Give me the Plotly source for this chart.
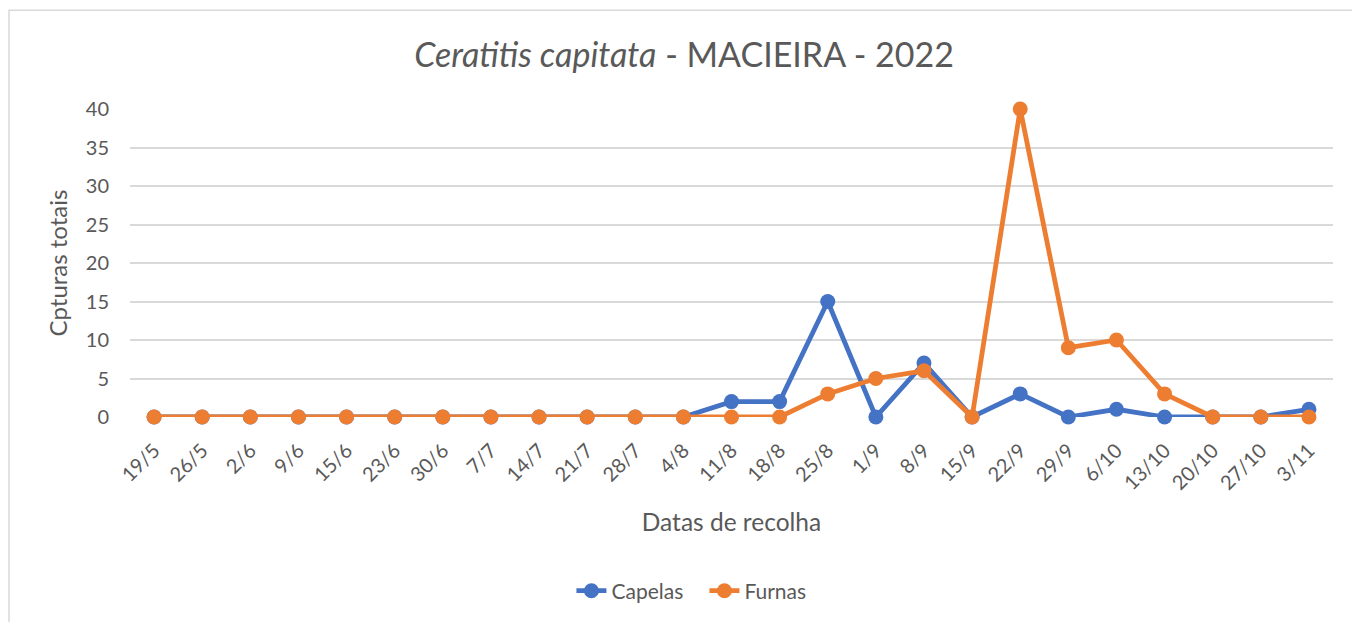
import plotly.graph_objects as go

dates = ["19/5", "26/5", "2/6", "9/6", "15/6", "23/6", "30/6", "7/7", "14/7", "21/7",
         "28/7", "4/8", "11/8", "18/8", "25/8", "1/9", "8/9", "15/9", "22/9", "29/9",
         "6/10", "13/10", "20/10", "27/10", "3/11"]
capelas = [0, 0, 0, 0, 0, 0, 0, 0, 0, 0, 0, 0, 2, 2, 15, 0, 7, 0, 3, 0, 1, 0, 0, 0, 1]
furnas = [0, 0, 0, 0, 0, 0, 0, 0, 0, 0, 0, 0, 0, 0, 3, 5, 6, 0, 40, 9, 10, 3, 0, 0, 0]
y_ticks = [0, 5, 10, 15, 20, 25, 30, 35, 40]

FONT = "Lato, Open Sans, sans-serif"
TXT = "#595959"

fig = go.Figure()
fig.add_trace(go.Scatter(x=dates, y=capelas, name="Capelas", mode="lines+markers",
                         line=dict(color="#4472C4", width=4.8),
                         marker=dict(size=15, color="#4472C4"), cliponaxis=False))
fig.add_trace(go.Scatter(x=dates, y=furnas, name="Furnas", mode="lines+markers",
                         line=dict(color="#ED7D31", width=4.8),
                         marker=dict(size=15, color="#ED7D31"), cliponaxis=False))

fig.update_layout(
    width=1352, height=622,
    paper_bgcolor="white", plot_bgcolor="white",
    margin=dict(l=130, r=19, t=109, b=204),
    font=dict(family=FONT, color=TXT, size=20),
    title=dict(text="<i>Ceratitis capitata</i> - MACIEIRA - 2022",
               x=0.506, xanchor="center", y=0.9116, yanchor="middle",
               font=dict(size=34, color=TXT, family=FONT)),
    showlegend=True,
    legend=dict(orientation="h", x=0.4775, xanchor="center", y=-0.56, yanchor="middle",
                font=dict(size=21, color=TXT), entrywidth=88, entrywidthmode="pixels",
                tracegroupgap=0),
    xaxis=dict(type="category", range=[-0.5, 24.5], showgrid=False, zeroline=False,
               showline=False, ticks="", tickangle=-45,
               tickfont=dict(size=20, color=TXT), ticklabelstandoff=17,
               title=dict(text="Datas de recolha", font=dict(size=24.5, color=TXT), standoff=20)),
    yaxis=dict(range=[0, 40], tickvals=y_ticks, showgrid=True, gridcolor="#d9d9d9",
               gridwidth=1.5, zeroline=False, showline=False, ticks="",
               tickfont=dict(size=20, color=TXT), ticklabelstandoff=20,
               title=dict(text="Cpturas totais", font=dict(size=24, color=TXT), standoff=11)),
    shapes=[dict(type="rect", xref="paper", yref="paper",
                 x0=(9 - 130) / 1203, x1=(1370 - 130) / 1203,
                 y0=(418 - 640) / 309, y1=(418 - 10) / 309,
                 line=dict(color="#d9d9d9", width=1.5), layer="below")],
)

fig.write_html("out.html", config={"displayModeBar": False},
               post_script="document.body.style.margin='0px';")
